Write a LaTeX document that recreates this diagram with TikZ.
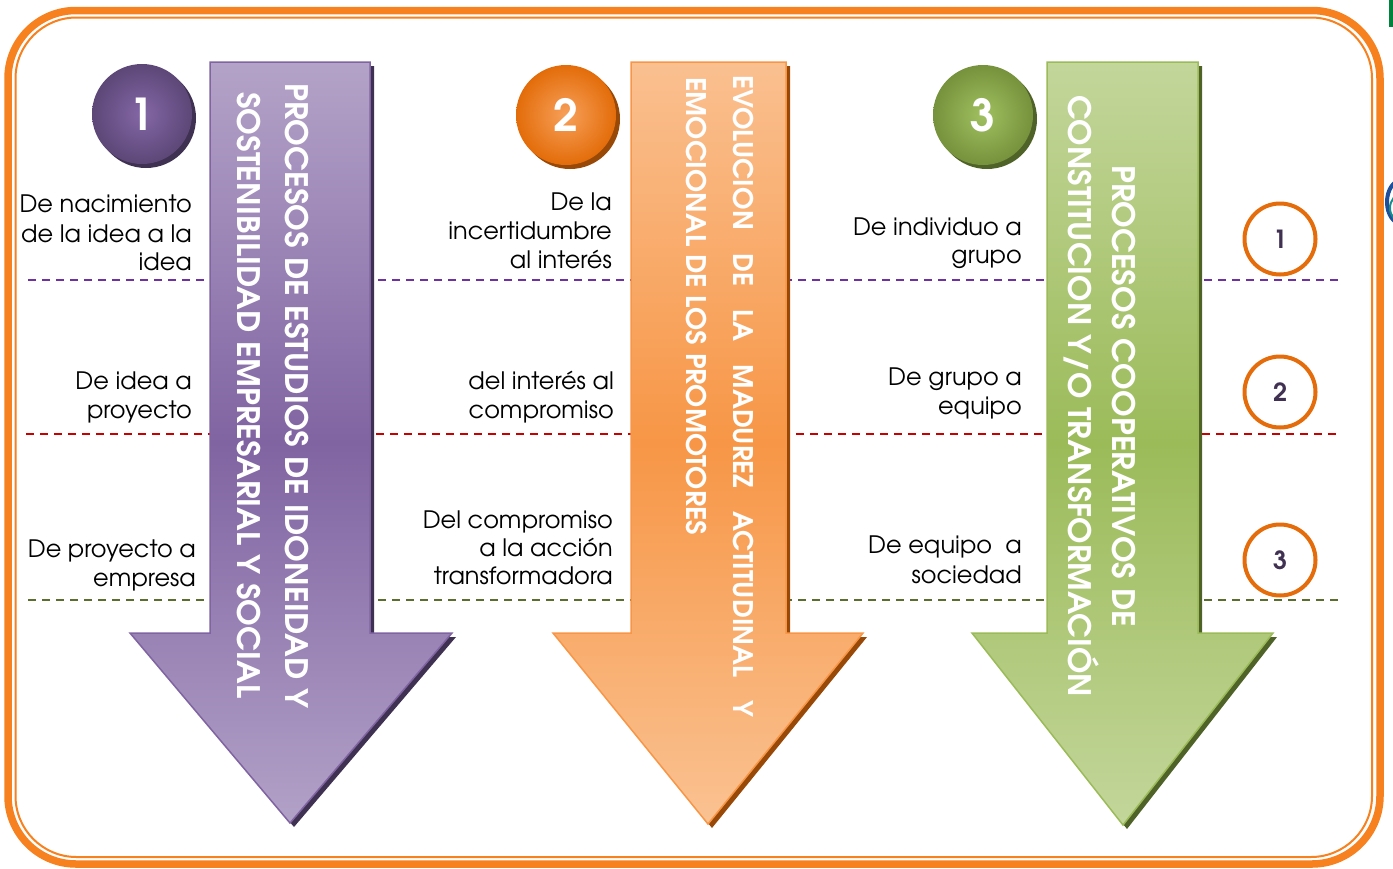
\documentclass[tikz,border=0pt]{standalone}
\usepackage{fontspec}
\setmainfont{TeX Gyre Adventor}
\usepackage{graphicx}
\definecolor{bord}{HTML}{F7801F}
\definecolor{purpT}{HTML}{B4A3C8}
\definecolor{purpM}{HTML}{8064A2}
\definecolor{purpB}{HTML}{B2A1C7}
\definecolor{purpE}{HTML}{8064A2}
\definecolor{purpS}{HTML}{3F3151}
\definecolor{purpC}{HTML}{8467A6}
\definecolor{purpO}{HTML}{5C4777}
\definecolor{oraT}{HTML}{FAC090}
\definecolor{oraM}{HTML}{F79646}
\definecolor{oraB}{HTML}{FAC292}
\definecolor{oraE}{HTML}{F79646}
\definecolor{oraS}{HTML}{984807}
\definecolor{oraC}{HTML}{F7A05A}
\definecolor{oraO}{HTML}{E36C09}
\definecolor{grnT}{HTML}{C3D69B}
\definecolor{grnM}{HTML}{9BBB59}
\definecolor{grnB}{HTML}{C3D69B}
\definecolor{grnE}{HTML}{9BBB59}
\definecolor{grnS}{HTML}{4F6228}
\definecolor{grnC}{HTML}{A0C060}
\definecolor{grnO}{HTML}{76923C}
\definecolor{dpurp}{HTML}{7030A0}
\definecolor{dred}{HTML}{C80000}
\definecolor{dolive}{HTML}{5A6E2E}
\definecolor{rcirc}{HTML}{E46C0A}
\definecolor{rnum}{HTML}{403152}
\definecolor{logoB}{HTML}{1F4E9A}
\definecolor{logoT}{HTML}{1A8A8A}
\definecolor{topg}{HTML}{00843D}
\newcommand\arrowshape[6]{(#1,62) -- (#2,62) -- (#2,633) -- (#4,633) -- (#5,#6) -- (#3,633) -- (#1,633) -- cycle}
\newcommand\fitw[2]{\resizebox{#1pt}{\height}{#2}}
\tikzset{
  dline/.style={line width=2pt, dash pattern=on 8pt off 6pt},
  atext/.style={rotate=-90, inner sep=0pt, text=white, anchor=base west},
  abig/.style={atext, font=\fontsize{31}{31}\selectfont\bfseries},
  asmall/.style={atext, font=\fontsize{27}{27}\selectfont\bfseries},
  lab/.style={anchor=base east, inner sep=0pt, font=\fontsize{24}{24}\selectfont, text=black},
  numc/.style={circle, inner sep=0pt, minimum size=100pt, text=white, font=\fontsize{44}{44}\selectfont\bfseries},
  rc/.style={circle, draw=rcirc, line width=4pt, minimum size=71pt, inner sep=0pt, text=rnum, font=\fontsize{25}{25}\selectfont\bfseries}
}
\begin{document}
\begin{tikzpicture}[x=1pt,y=-1pt]
\useasboundingbox (0,0) rectangle (1393,868);
% border
\draw[bord, line width=7.5pt, rounded corners=68pt] (8,10.5) rectangle (1380,864);
\draw[bord, line width=2pt, rounded corners=61pt] (15.5,17.5) rectangle (1372,857);
% edge details
\fill[topg] (1389,0) rectangle (1393,27);
\draw[logoB, line width=4pt] (1402,202) ellipse (15 and 22);
\draw[logoT, line width=2pt] (1402,208) ellipse (12 and 14);
% dashed lines
\draw[dline, dpurp] (28,280) -- (1338,280);
\draw[dline, dred] (26,434) -- (1338,434);
\draw[dline, dolive] (28,600) -- (1338,600);
% arrow 1
\fill[purpS, shift={(4,4)}] \arrowshape{210}{370}{130}{452}{290}{823};
\path[draw=purpE, line width=1.5pt, top color=purpT, bottom color=purpB, middle color=purpM] \arrowshape{210}{370}{130}{452}{290}{823};
% arrow 2
\fill[oraS, shift={(4,4)}] \arrowshape{631}{786}{553}{863}{708}{824};
\path[draw=oraE, line width=1.5pt, top color=oraT, bottom color=oraB, middle color=oraM] \arrowshape{631}{786}{553}{863}{708}{824};
% arrow 3
\fill[grnS, shift={(4,4)}] \arrowshape{1047}{1198}{972}{1273}{1123}{825};
\path[draw=grnE, line width=1.5pt, top color=grnT, bottom color=grnB, middle color=grnM] \arrowshape{1047}{1198}{972}{1273}{1123}{825};
% arrow texts
\node[abig] (t1a) at (285,83) {\fitw{625}{PROCESOS DE ESTUDIOS DE IDONEIDAD Y}};
\node[abig] (t1b) at (237,92) {\fitw{606}{SOSTENIBILIDAD EMPRESARIAL Y SOCIAL}};
\node[asmall] (t2a) at (733,75) {\makebox[642pt][s]{EVOLUCION DE LA MADUREZ ACTITUDINAL Y}};
\node[asmall] (t2b) at (686,77) {\fitw{458}{EMOCIONAL DE LOS PROMOTORES}};
\node[abig] (t3a) at (1112,165) {\fitw{462}{PROCESOS COOPERATIVOS DE}};
\node[abig] (t3b) at (1068,95) {\fitw{602}{CONSTITUCION Y/O TRANSFORMACIÓN}};
% number circles
\fill[purpS] (146,118) circle (50);
\node[numc, inner color=purpC, outer color=purpO] (c1) at (142,114) {1};
\fill[oraS] (570,119) circle (50);
\node[numc, inner color=oraC, outer color=oraO] (c2) at (566,115) {2};
\fill[grnS] (987,119) circle (50);
\node[numc, inner color=grnC, outer color=grnO] (c3) at (983,115) {3};
% labels column 1
\node[lab] (a1) at (192,212) {De nacimiento};
\node[lab] (a2) at (192,242) {de la idea a la};
\node[lab] (a3) at (192,270) {idea};
\node[lab] (a4) at (192,389) {De idea a};
\node[lab] (a5) at (192,418) {proyecto};
\node[lab] (a6) at (196,557) {De proyecto a};
\node[lab] (a7) at (196,586) {empresa};
% labels column 2
\node[lab] (b1) at (612,210) {De la};
\node[lab] (b2) at (612,239) {incertidumbre};
\node[lab] (b3) at (612,268) {al interés};
\node[lab] (b4) at (614,389) {del interés al};
\node[lab] (b5) at (614,418) {compromiso};
\node[lab] (b6) at (613,528) {Del compromiso};
\node[lab] (b7) at (613,556) {a la acción};
\node[lab] (b8) at (613,584) {transformadora};
% labels column 3
\node[lab] (d1) at (1022,235) {De individuo a};
\node[lab] (d2) at (1022,263) {grupo};
\node[lab] (d3) at (1022,385) {De grupo a};
\node[lab] (d4) at (1022,414) {equipo};
\node[lab] (d5) at (1022,553) {De equipo\ \ a};
\node[lab] (d6) at (1022,583) {sociedad};
% right circles
\node[rc] (r1) at (1280,239) {1};
\node[rc] (r2) at (1280,392) {2};
\node[rc] (r3) at (1280,560) {3};
\end{tikzpicture}
\end{document}
